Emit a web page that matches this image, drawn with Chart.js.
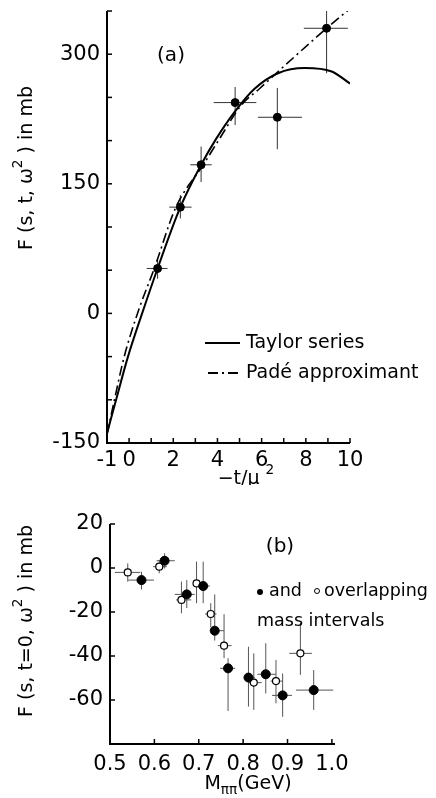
<!DOCTYPE html>
<html>
<head>
<meta charset="utf-8">
<script src="https://cdn.jsdelivr.net/npm/chart.js@4/dist/chart.umd.min.js"></script>
<style>
  html, body { margin: 0; padding: 0; background: #fff; }
  #wrap { position: relative; width: 436px; height: 798px; }
  #chartA { position: absolute; left: 0; top: 0; }
  #chartB { position: absolute; left: 0; top: 490px; }
</style>
</head>
<body>
<div id="wrap">
  <canvas id="chartA" width="436" height="485"></canvas>
  <canvas id="chartB" width="436" height="308"></canvas>
</div>
<script>
// --- panel (a): F(s,t,w^2) vs -t/mu^2 ---
const A_XTICKS = [-1, 0, 1, 2, 3, 4, 5, 6, 7, 8, 9, 10];
const A_XLABELS = ['-1', '0', '', '2', '', '4', '', '6', '', '8', '', '10'];
const A_YTICKS = [-150, -100, -50, 0, 50, 100, 150, 200, 250, 300, 350];
const A_YLABELS = ['-150', '', '', '0', '', '', '150', '', '', '300', ''];

// curves
const TAYLOR_X = [-1, -0.61, -0.05, 0.59, 1.29, 2.32, 3.26, 3.94, 4.77, 5.68, 6.74, 7.95, 9.17, 10];
const TAYLOR_Y = [-139, -102, -50, 0, 52, 123, 172, 202, 233, 260, 278, 284, 280, 266];
const PADE_X = [-1, -0.68, -0.23, 0.38, 1.14, 2.12, 3.36, 4.09, 5.08, 5.9, 7.4, 8.94, 10.2];
const PADE_Y = [-140, -102, -51, 0, 52, 123, 172, 202, 241, 260, 295, 330, 357];

// data points with error bars
const A_X = [1.29, 2.32, 3.26, 4.80, 6.71, 8.94];
const A_Y = [52, 123, 172, 244, 227, 330];
const A_XLO = [0.80, 1.82, 2.77, 3.83, 5.83, 7.91];
const A_XHI = [1.74, 2.83, 3.74, 5.76, 7.83, 9.90];
const A_YLO = [40, 110, 152, 218, 190, 278];
const A_YHI = [64, 137, 193, 262, 261, 350];

// --- panel (b): F(s,t=0,w^2) vs M_pipi ---
const B_XTICKS = [0.5, 0.6, 0.7, 0.8, 0.9, 1.0];
const B_XLABELS = ['0.5', '0.6', '0.7', '0.8', '0.9', '1.0'];
const B_YTICKS = [-80, -60, -40, -20, 0, 20];
const B_YLABELS = ['', '-60', '-40', '-20', '0', '20'];

// filled points
const BF_X = [0.571, 0.623, 0.673, 0.710, 0.736, 0.766, 0.812, 0.851, 0.889, 0.959];
const BF_Y = [-5.5, 3.3, -12, -8.2, -28.5, -45.6, -49.8, -48.3, -57.9, -55.5];
const BF_XLO = [0.541, 0.605, 0.646, 0.698, 0.727, 0.748, 0.804, 0.832, 0.865, 0.919];
const BF_XHI = [0.599, 0.646, 0.691, 0.725, 0.757, 0.782, 0.826, 0.874, 0.910, 1.003];
const BF_YLO = [-9.7, -0.2, -18.2, -16, -33, -65, -63, -57, -67.6, -64.5];
const BF_YHI = [-1.7, 6.7, -5.5, 2.9, -12, -41, -35.8, -34.2, -47.9, -46.4];

// open points (overlapping mass intervals)
const BO_X = [0.540, 0.611, 0.661, 0.695, 0.727, 0.757, 0.824, 0.874, 0.929];
const BO_Y = [-2, 0.6, -14.5, -7, -20.9, -35.3, -52.1, -51.4, -38.8];
const BO_XLO = [0.511, 0.597, 0.649, 0.688, 0.714, 0.743, 0.812, 0.862, 0.904];
const BO_XHI = [0.568, 0.628, 0.683, 0.702, 0.740, 0.774, 0.842, 0.889, 0.955];
const BO_YLO = [-6.2, -2.4, -20.6, -16, -27, -41, -64.5, -61.5, -48.6];
const BO_YHI = [2.1, 3.6, -6.2, 2.9, -16, -21, -38.8, -41.8, -25];

const FONT = '"DejaVu Sans", sans-serif';

function pts(xs, ys) {
    return xs.map((x, i) => ({ x: x, y: ys[i] }));
}

function drawRich(ctx, x, y, parts, size, rot) {
    ctx.save();
    ctx.translate(x, y);
    if (rot) ctx.rotate(rot);
    let w = 0;
    parts.forEach(p => {
        ctx.font = (p.s ? size * 0.72 : size) + 'px ' + FONT;
        w += ctx.measureText(p.t).width;
    });
    let cx = -w / 2;
    ctx.textBaseline = 'middle';
    ctx.textAlign = 'left';
    ctx.fillStyle = '#000';
    parts.forEach(p => {
        ctx.font = (p.s ? size * 0.72 : size) + 'px ' + FONT;
        const dy = p.s === 'sup' ? -size * 0.45 : (p.s === 'sub' ? size * 0.35 : 0);
        ctx.fillText(p.t, cx, dy);
        cx += ctx.measureText(p.t).width;
    });
    ctx.restore();
}

// axes lines + ticks pointing inward
const frame = {
    id: 'frame',
    afterDraw(chart) {
        const { ctx, chartArea: ca, scales } = chart;
        ctx.save();
        ctx.strokeStyle = '#000';
        ctx.lineWidth = 2;
        ctx.beginPath();
        ctx.moveTo(ca.left, ca.top);
        ctx.lineTo(ca.left, ca.bottom);
        ctx.lineTo(ca.right, ca.bottom);
        ctx.stroke();
        ctx.lineWidth = 1.5;
        scales.x.ticks.forEach(t => {
            const px = scales.x.getPixelForValue(t.value);
            ctx.beginPath(); ctx.moveTo(px, ca.bottom); ctx.lineTo(px, ca.bottom - 5); ctx.stroke();
        });
        scales.y.ticks.forEach(t => {
            const py = scales.y.getPixelForValue(t.value);
            ctx.beginPath(); ctx.moveTo(ca.left, py); ctx.lineTo(ca.left + 5, py); ctx.stroke();
        });
        ctx.restore();
    }
};

// error bars from dataset.xLo/xHi/yLo/yHi
const errBars = {
    id: 'errBars',
    beforeDatasetsDraw(chart) {
        const { ctx, scales: { x, y } } = chart;
        ctx.save();
        chart.data.datasets.forEach(ds => {
            if (!ds.xLo) return;
            ctx.strokeStyle = ds.barColor || '#333';
            ctx.lineWidth = 1;
            ds.data.forEach((p, i) => {
                const px = x.getPixelForValue(p.x), py = y.getPixelForValue(p.y);
                ctx.beginPath();
                ctx.moveTo(x.getPixelForValue(ds.xLo[i]), py);
                ctx.lineTo(x.getPixelForValue(ds.xHi[i]), py);
                ctx.moveTo(px, y.getPixelForValue(ds.yLo[i]));
                ctx.lineTo(px, y.getPixelForValue(ds.yHi[i]));
                ctx.stroke();
            });
        });
        ctx.restore();
    }
};

function axisOpts(min, max, ticks, labels, fit, pad) {
    return {
        type: 'linear', min: min, max: max,
        afterBuildTicks: s => { s.ticks = ticks.map(v => ({ value: v })); },
        afterFit: s => {
            fit(s);
            // keep the chart area where the layout padding puts it
            s.paddingTop = 0; s.paddingBottom = 0; s.paddingLeft = 0; s.paddingRight = 0;
        },
        grid: { display: false, drawTicks: false },
        border: { display: false },
        ticks: {
            autoSkip: false, maxRotation: 0, padding: pad, color: '#000',
            font: { family: FONT, size: 21 },
            callback: v => { const i = ticks.indexOf(v); return i < 0 ? '' : labels[i]; }
        }
    };
}

// ---------- chart (a) ----------
const labelsA = {
    id: 'labelsA',
    afterDraw(chart) {
        const ctx = chart.ctx;
        drawRich(ctx, 171, 56, [{ t: '(a)' }], 20);
        drawRich(ctx, 27, 168, [{ t: 'F (s, t, ω' }, { t: '2', s: 'sup' }, { t: ' ) in mb' }], 19, -Math.PI / 2);
        drawRich(ctx, 246, 479, [{ t: '−t/μ ' }, { t: '2', s: 'sup' }], 19);
        // legend
        ctx.save();
        ctx.strokeStyle = '#000';
        ctx.lineWidth = 2;
        ctx.beginPath(); ctx.moveTo(205, 343); ctx.lineTo(240, 343); ctx.stroke();
        ctx.setLineDash([10, 4, 2, 4]);
        ctx.beginPath(); ctx.moveTo(208, 373); ctx.lineTo(242, 373); ctx.stroke();
        ctx.setLineDash([]);
        ctx.fillStyle = '#000';
        ctx.font = '19px ' + FONT;
        ctx.textBaseline = 'middle';
        ctx.fillText('Taylor series', 246, 343);
        ctx.fillText('Padé approximant', 246, 373);
        ctx.restore();
    }
};

new Chart(document.getElementById('chartA'), {
    data: {
        datasets: [
            {
                type: 'line', label: 'Taylor series', data: pts(TAYLOR_X, TAYLOR_Y),
                borderColor: '#000', borderWidth: 2, pointRadius: 0, cubicInterpolationMode: 'monotone'
            },
            {
                type: 'line', label: 'Padé approximant', data: pts(PADE_X, PADE_Y),
                borderColor: '#000', borderWidth: 1.6, borderDash: [10, 4, 2, 4], pointRadius: 0,
                cubicInterpolationMode: 'monotone'
            },
            {
                type: 'scatter', label: 'data', data: pts(A_X, A_Y),
                xLo: A_XLO, xHi: A_XHI, yLo: A_YLO, yHi: A_YHI, barColor: '#333',
                pointRadius: 4, backgroundColor: '#000', borderColor: '#000'
            }
        ]
    },
    options: {
        responsive: false, animation: false,
        layout: { padding: { left: 0, top: 11, right: 86, bottom: 0 } },
        plugins: { legend: { display: false }, tooltip: { enabled: false } },
        scales: {
            x: axisOpts(-1, 10, A_XTICKS, A_XLABELS, s => { s.height = 42; }, 5),
            y: axisOpts(-150, 350, A_YTICKS, A_YLABELS, s => { s.width = 107; }, 7)
        }
    },
    plugins: [frame, errBars, labelsA]
});

// ---------- chart (b) ----------
const labelsB = {
    id: 'labelsB',
    afterDraw(chart) {
        const ctx = chart.ctx;
        drawRich(ctx, 280, 57, [{ t: '(b)' }], 20);
        drawRich(ctx, 27, 131, [{ t: 'F (s, t=0, ω' }, { t: '2', s: 'sup' }, { t: ' ) in mb' }], 19, -Math.PI / 2);
        drawRich(ctx, 248, 294, [{ t: 'M' }, { t: 'ππ', s: 'sub' }, { t: '(GeV)' }], 19);
        ctx.save();
        ctx.fillStyle = '#000';
        ctx.strokeStyle = '#000';
        ctx.lineWidth = 1;
        ctx.beginPath(); ctx.arc(260, 102, 3, 0, Math.PI * 2); ctx.fill();
        ctx.beginPath(); ctx.arc(317, 101, 2.5, 0, Math.PI * 2); ctx.stroke();
        ctx.font = '17.5px ' + FONT;
        ctx.textBaseline = 'middle';
        ctx.fillText('and', 269, 101);
        ctx.fillText('overlapping', 324, 101);
        ctx.fillText('mass intervals', 257, 131);
        ctx.restore();
    }
};

new Chart(document.getElementById('chartB'), {
    data: {
        datasets: [
            {
                type: 'scatter', label: 'filled', data: pts(BF_X, BF_Y),
                xLo: BF_XLO, xHi: BF_XHI, yLo: BF_YLO, yHi: BF_YHI, barColor: '#555',
                pointRadius: 4.5, backgroundColor: '#000', borderColor: '#000'
            },
            {
                type: 'scatter', label: 'open', data: pts(BO_X, BO_Y),
                xLo: BO_XLO, xHi: BO_XHI, yLo: BO_YLO, yHi: BO_YHI, barColor: '#555',
                pointRadius: 3.5, backgroundColor: '#fff', borderColor: '#000', borderWidth: 1.2
            }
        ]
    },
    options: {
        responsive: false, animation: false,
        layout: { padding: { left: 0, top: 34, right: 101, bottom: 0 } },
        plugins: { legend: { display: false }, tooltip: { enabled: false } },
        scales: {
            x: axisOpts(0.5, 1.007, B_XTICKS, B_XLABELS, s => { s.height = 54; }, 8),
            y: axisOpts(-80, 20, B_YTICKS, B_YLABELS, s => { s.width = 110; }, 7)
        }
    },
    plugins: [frame, errBars, labelsB]
});
</script>
</body>
</html>
